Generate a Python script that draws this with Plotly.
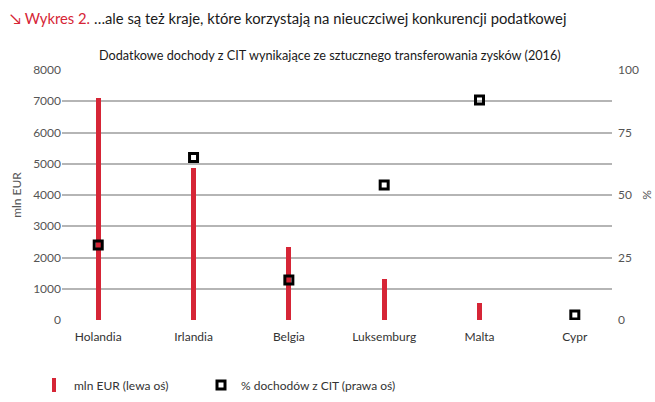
import plotly.graph_objects as go

categories = ["Holandia", "Irlandia", "Belgia", "Luksemburg", "Malta", "Cypr"]
mln_eur = [7100, 4850, 2330, 1310, 560, 0]
pct_cit = [30, 65, 16, 54, 88, 2]
left_ticks = [0, 1000, 2000, 3000, 4000, 5000, 6000, 7000, 8000]
right_ticks = [0, 25, 50, 75, 100]

RED = "#d62536"
GRID = "#b5b5b5"
TXT = "#333333"
TICK = "#555555"
FONT = "Lato"

xs = list(range(len(categories)))

fig = go.Figure()
fig.add_trace(go.Bar(
    x=xs, y=mln_eur, name="mln EUR (lewa oś)",
    marker=dict(color=RED, line=dict(width=0)), width=0.052,
    yaxis="y", showlegend=False,
))
# legend proxy for the bar series (narrow red bar symbol)
fig.add_trace(go.Scatter(
    x=[None], y=[None], name="mln EUR (lewa oś)", mode="markers",
    marker=dict(symbol="line-ns", size=10, line=dict(width=4, color=RED), color=RED),
    yaxis="y", legend="legend",
))
fig.add_trace(go.Scatter(
    x=xs, y=pct_cit, name="% dochodów z CIT (prawa oś)", mode="markers",
    marker=dict(symbol="square-open", size=8, color="black", line=dict(width=3, color="black")),
    yaxis="y2", legend="legend2",
))

leg_common = dict(orientation="h", xref="container", yref="container",
                  xanchor="left", y=(402 - 385) / 402, yanchor="middle",
                  font=dict(size=12, color=TXT), itemwidth=30, bgcolor="rgba(0,0,0,0)")

fig.update_layout(
    width=655, height=402,
    margin=dict(l=62, r=43, t=70, b=82, autoexpand=False),
    paper_bgcolor="white", plot_bgcolor="white",
    font=dict(family=FONT, size=12, color=TXT),
    showlegend=True,
    legend=dict(x=34 / 655, **leg_common),
    legend2=dict(x=201 / 655, **leg_common),
    xaxis=dict(range=[-0.38, 5.39], tickvals=xs, ticktext=categories, automargin=False,
               showgrid=False, zeroline=False, showline=False, ticks="",
               ticklabelstandoff=8,
               tickfont=dict(size=12, color=TXT)),
    yaxis=dict(range=[0, 8000], tickvals=left_ticks, showgrid=True, gridcolor=GRID,
               gridwidth=1.5, zeroline=False, showline=False, ticks="", automargin=False,
               tickfont=dict(size=12, color=TICK),
               title=dict(text="mln EUR", font=dict(size=12, color=TICK), standoff=8)),
    yaxis2=dict(range=[0, 100], tickvals=right_ticks, overlaying="y", side="right",
                showgrid=False, zeroline=False, showline=False, ticks="", automargin=False,
                tickfont=dict(size=12, color=TICK), ticklabelstandoff=5,
                title=dict(text="%", font=dict(size=12, color=TICK), standoff=4)),
    bargap=0,
)

fig.add_annotation(
    text="<span style='color:%s'>↘ Wykres 2.</span> …ale są też kraje, które korzystają na nieuczciwej konkurencji podatkowej" % RED,
    xref="paper", yref="paper", x=-0.098, y=1.208, xanchor="left", yanchor="middle",
    showarrow=False, font=dict(size=14.8, color="#1a1a1a", family=FONT),
)
fig.add_annotation(
    text="Dodatkowe dochody z CIT wynikające ze sztucznego transferowania zysków (2016)",
    xref="paper", yref="paper", x=0.487, y=1.06, xanchor="center", yanchor="middle",
    showarrow=False, font=dict(size=12.7, color="#1a1a1a", family=FONT),
)

fig.write_html("out.html", config={"displayModeBar": False},
               post_script="document.body.style.margin='0';document.body.style.padding='0';")
